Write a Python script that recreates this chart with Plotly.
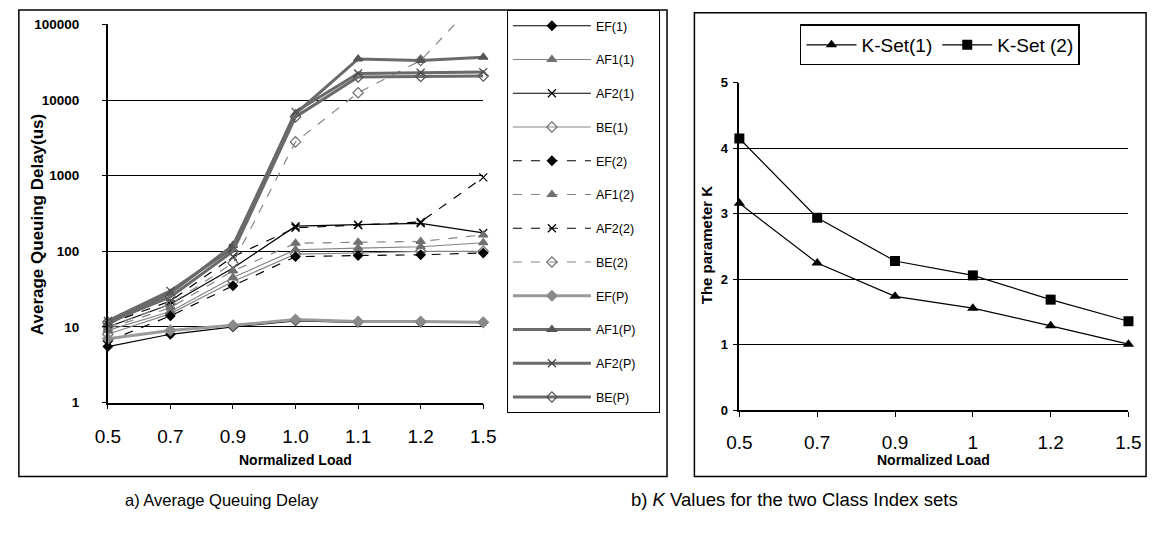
import plotly.graph_objects as go

# ---------------- data ----------------
load_a = ["0.5", "0.7", "0.9", "1.0", "1.1", "1.2", "1.5"]

ef_1 = [5.5, 8, 10, 12, 11.5, 11.5, 11.5]
af1_1 = [9, 16, 45, 105, 110, 115, 130]
af2_1 = [10, 20, 60, 215, 225, 235, 175]
be_1 = [8, 15, 40, 92, 95, 100, 100]
ef_2 = [6.5, 14, 35, 85, 88, 90, 95]
af1_2 = [9.5, 18, 55, 128, 132, 135, 165]
af2_2 = [11, 22, 85, 205, 222, 245, 950]
be_2 = [10, 20, 70, 2800, 12500, 33500, 250000]
ef_p = [7, 9, 10.5, 12.5, 11.8, 11.8, 11.5]
af1_p = [11, 28, 120, 6600, 35000, 33500, 37000]
af2_p = [12, 30, 110, 7000, 22500, 23000, 23500]
be_p = [11.5, 25, 100, 6000, 20200, 20500, 20800]

load_b = ["0.5", "0.7", "0.9", "1", "1.2", "1.5"]
k_set1 = [3.16, 2.25, 1.74, 1.56, 1.29, 1.01]
k_set2 = [4.15, 2.94, 2.28, 2.06, 1.69, 1.36]

delay_ticks = [1, 10, 100, 1000, 10000, 100000]
delay_tick_text = ["1", "10", "100", "1000", "10000", "100000"]

# ---------------- layout helpers ----------------
W, H = 1162, 534


def px(x):
    return x / W


def py(y):
    return 1 - y / H


FONT = "Liberation Sans, Arial, sans-serif"
BLACK = "#000000"
GRAY = "#858585"
DARK = "#6a6a6a"
PAD = "\u00a0" * 5

fig = go.Figure()

series_a = [
    ("EF(1)", ef_1, BLACK, 1.2, "solid", "diamond", BLACK, 7),
    ("AF1(1)", af1_1, GRAY, 1.2, "solid", "triangle-up", "#707070", 8),
    ("AF2(1)", af2_1, BLACK, 1.2, "solid", "x-thin-open", BLACK, 8),
    ("BE(1)", be_1, GRAY, 1.2, "solid", "diamond-open", "#707070", 8),
    ("EF(2)", ef_2, BLACK, 1.2, "dash", "diamond", BLACK, 7),
    ("AF1(2)", af1_2, GRAY, 1.2, "dash", "triangle-up", "#707070", 8),
    ("AF2(2)", af2_2, BLACK, 1.2, "dash", "x-thin-open", BLACK, 8),
    ("BE(2)", be_2, GRAY, 1.2, "dash", "diamond-open", "#707070", 8),
    ("EF(P)", ef_p, "#9a9a9a", 3, "solid", "diamond", "#8a8a8a", 8),
    ("AF1(P)", af1_p, DARK, 3, "solid", "triangle-up", "#555555", 8),
    ("AF2(P)", af2_p, DARK, 3, "solid", "x-thin-open", "#444444", 8),
    ("BE(P)", be_p, DARK, 3, "solid", "diamond-open", "#555555", 8),
]

for i, (name, vals, lc, lw, dash, sym, mc, ms) in enumerate(series_a):
    fig.add_trace(go.Scatter(
        x=load_a, y=vals, name=name + PAD, mode="lines+markers",
        line=dict(color=lc, width=lw, dash=dash),
        marker=dict(symbol=sym, color=mc, size=ms, line=dict(color=mc, width=1.2)),
        xaxis="x", yaxis="y", legend="legend", legendgroup=f"g{i}",
        cliponaxis=False,
    ))

fig.add_trace(go.Scatter(
    x=load_b, y=k_set1, name="K-Set(1)", mode="lines+markers",
    line=dict(color=BLACK, width=1.2),
    marker=dict(symbol="triangle-up", color=BLACK, size=10),
    xaxis="x2", yaxis="y2", legend="legend2", cliponaxis=False,
))
fig.add_trace(go.Scatter(
    x=load_b, y=k_set2, name="K-Set (2)", mode="lines+markers",
    line=dict(color=BLACK, width=1.2),
    marker=dict(symbol="square", color=BLACK, size=10),
    xaxis="x2", yaxis="y2", legend="legend2", cliponaxis=False,
))

axis_common = dict(showline=True, linecolor=BLACK, linewidth=1.5, ticks="outside",
                   tickcolor=BLACK, zeroline=False, mirror=False)

fig.update_layout(
    width=W, height=H, autosize=False,
    margin=dict(l=0, r=0, t=0, b=0),
    paper_bgcolor="white", plot_bgcolor="white",
    font=dict(family=FONT, color=BLACK),
    xaxis=dict(domain=[px(97), px(481)], type="category", range=[0, 6],
               showgrid=False, ticklen=5, tickwidth=1.2,
               tickfont=dict(size=19), ticklabelstandoff=11,
               anchor="y", **axis_common),
    yaxis=dict(domain=[py(407), py(18)], type="log", range=[0, 5],
               tickvals=delay_ticks, ticktext=delay_tick_text,
               showgrid=True, gridcolor=BLACK, gridwidth=1.2,
               ticklen=4, tickwidth=1.2, ticklabelstandoff=20,
               tickfont=dict(size=13.5, weight="bold"),
               anchor="x", **axis_common),
    xaxis2=dict(domain=[px(743), px(1141)], type="category", range=[0, 5],
                showgrid=False, ticklen=5, tickwidth=1.2,
                tickfont=dict(size=19), ticklabelstandoff=9,
                anchor="y2", **axis_common),
    yaxis2=dict(domain=[py(415), py(78)], range=[0, 5], dtick=1,
                showgrid=True, gridcolor=BLACK, gridwidth=1.2,
                ticklen=5, tickwidth=1.2, ticklabelstandoff=2,
                tickfont=dict(size=13, weight="bold"),
                anchor="x2", **axis_common),
    legend=dict(x=px(505), y=py(3), xanchor="left", yanchor="top",
                bordercolor=BLACK, borderwidth=1.2, bgcolor="white",
                font=dict(size=12.5), tracegroupgap=14.5, traceorder="grouped",
                itemwidth=78),
    legend2=dict(x=px(805), y=py(18), xanchor="left", yanchor="top",
                 orientation="h", bordercolor=BLACK, borderwidth=1.5,
                 bgcolor="white", font=dict(size=19), itemwidth=50),
    showlegend=True,
)

shapes = [
    dict(type="rect", xref="paper", yref="paper",
         x0=px(6), x1=px(669), y0=py(483), y1=py(3),
         line=dict(color=BLACK, width=1.5)),
    dict(type="rect", xref="paper", yref="paper",
         x0=px(697), x1=px(1159), y0=py(483), y1=py(6),
         line=dict(color=BLACK, width=1.5)),
]
fig.update_layout(shapes=shapes)

annotations = [
    dict(text="Average Queuing Delay(us)", x=px(25), y=py(224), textangle=-90,
         font=dict(size=17, weight="bold")),
    dict(text="Normalized Load", x=px(289), y=py(466),
         font=dict(size=14, weight="bold")),
    dict(text="The parameter K", x=px(709), y=py(245), textangle=-90,
         font=dict(size=15, weight="bold")),
    dict(text="Normalized Load", x=px(942), y=py(466),
         font=dict(size=14, weight="bold")),
    dict(text="a) Average Queuing Delay", x=px(214), y=py(507),
         font=dict(size=16.5)),
    dict(text="b) <i>K</i> Values for the two Class Index sets", x=px(799), y=py(507),
         font=dict(size=18.5)),
]
for a in annotations:
    a.update(xref="paper", yref="paper", showarrow=False, xanchor="center", yanchor="middle")
fig.update_layout(annotations=annotations)

fig.write_html("out.html")
